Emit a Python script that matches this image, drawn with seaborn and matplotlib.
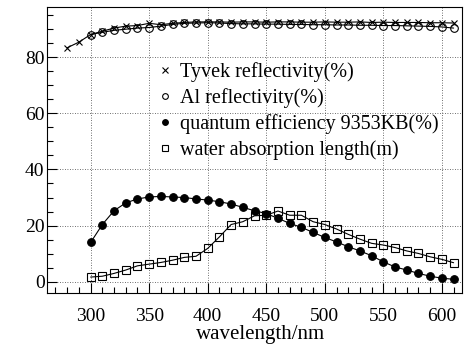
import numpy as np
import pandas as pd
import matplotlib
matplotlib.use("Agg")
import matplotlib.pyplot as plt
import seaborn as sns
from matplotlib.ticker import MultipleLocator

wl_tyvek = list(range(280, 620, 10))
tyvek = [83.3, 85.3, 88.0, 89.2, 90.3, 91.0, 91.2, 92.0, 91.5, 92.0, 92.3, 92.5,
         92.5, 92.5, 92.4, 92.5, 92.5, 92.4, 92.5, 92.5, 92.4, 92.4, 92.5, 92.4,
         92.4, 92.5, 92.3, 92.4, 92.3, 92.3, 92.3, 92.2, 92.2, 92.1]
wl = list(range(300, 620, 10))
al = [88.0, 88.8, 89.5, 89.9, 90.3, 90.5, 91.0, 91.6, 92.0, 92.1, 92.2, 92.1,
      91.9, 91.8, 91.8, 91.7, 91.7, 91.6, 91.6, 91.5, 91.5, 91.4, 91.4, 91.3,
      91.3, 91.2, 91.2, 91.1, 91.0, 90.9, 90.7, 90.3]
qe = [14.0, 20.4, 25.3, 28.1, 29.5, 30.2, 30.4, 30.2, 30.0, 29.5, 29.1, 28.5,
      27.7, 26.5, 25.3, 24.3, 22.6, 20.8, 19.4, 17.6, 15.8, 14.2, 12.5, 11.0,
      9.3, 7.1, 5.3, 4.2, 3.0, 2.0, 1.3, 0.9]
water = [1.7, 2.0, 3.0, 4.2, 5.7, 6.3, 6.9, 7.7, 8.7, 9.1, 11.9, 16.0, 20.4,
         21.4, 23.5, 23.7, 25.2, 23.7, 23.7, 21.4, 20.4, 18.8, 16.9, 15.2, 13.7,
         13.1, 12.2, 11.0, 10.1, 8.9, 8.0, 6.8]
labels = ["Tyvek reflectivity(%)", "Al reflectivity(%)",
          "quantum efficiency 9353KB(%)", "water absorption length(m)"]
xticks = [300, 350, 400, 450, 500, 550, 600]
yticks = [0, 20, 40, 60, 80]

sns.set_theme(style="ticks")
plt.rcParams['font.family'] = ['Liberation Serif', 'DejaVu Serif']
plt.rcParams['text.color'] = 'black'
plt.rcParams['axes.labelcolor'] = 'black'
plt.rcParams['xtick.color'] = 'black'
plt.rcParams['ytick.color'] = 'black'

fig = plt.figure(figsize=(4.66, 3.47), dpi=100)
ax = fig.add_axes([0.1015, 0.157, 0.8895, 0.822])

dfs = [
    (pd.DataFrame({"x": wl_tyvek, "y": tyvek}), dict(marker="x", mfc="black", ms=5, mew=0.8)),
    (pd.DataFrame({"x": wl, "y": al}), dict(marker="o", mfc="none", ms=5.5, mew=0.8)),
    (pd.DataFrame({"x": wl, "y": qe}), dict(marker="o", mfc="black", ms=5.5, mew=0.8)),
    (pd.DataFrame({"x": wl, "y": water}), dict(marker="s", mfc="none", ms=5.5, mew=0.8)),
]
for (d, kw), lab in zip(dfs, labels):
    sns.lineplot(data=d, x="x", y="y", ax=ax, color="black", lw=0.8,
                 mec="black", label=lab, **kw)

ax.set_xlim(263, 617)
ax.set_ylim(-3.8, 97.7)
ax.set_xticks(xticks)
ax.set_yticks(yticks)
ax.xaxis.set_minor_locator(MultipleLocator(10))
ax.yaxis.set_minor_locator(MultipleLocator(5))
ax.tick_params(which="both", direction="in", top=False, right=False,
               labelsize=14, colors="black", labelcolor="black")
ax.tick_params(which="major", length=7, width=0.8)
ax.tick_params(which="minor", length=4, width=0.8)
ax.tick_params(axis="x", which="major", pad=11)
ax.tick_params(axis="y", which="major", pad=2)
ax.grid(True, which="major", ls=(0, (1, 2)), color="0.25", lw=0.6)
for s in ax.spines.values():
    s.set_color("black")
    s.set_linewidth(0.8)
ax.set_xlabel("wavelength/nm", fontsize=15, labelpad=0, color="black")
ax.xaxis.label.set_x(0.515)
ax.set_ylabel("")

h, l = ax.get_legend_handles_labels()
leg = ax.legend(h, l, loc="upper left", bbox_to_anchor=(0.25, 0.835),
                frameon=False, fontsize=14.5, handlelength=0.6, handletextpad=0.45,
                labelspacing=0.3, markerscale=0.75, borderaxespad=0)
for lh in leg.get_lines():
    lh.set_linestyle("none")
for t in leg.get_texts():
    t.set_color("black")

fig.savefig("out.png", dpi=100)
